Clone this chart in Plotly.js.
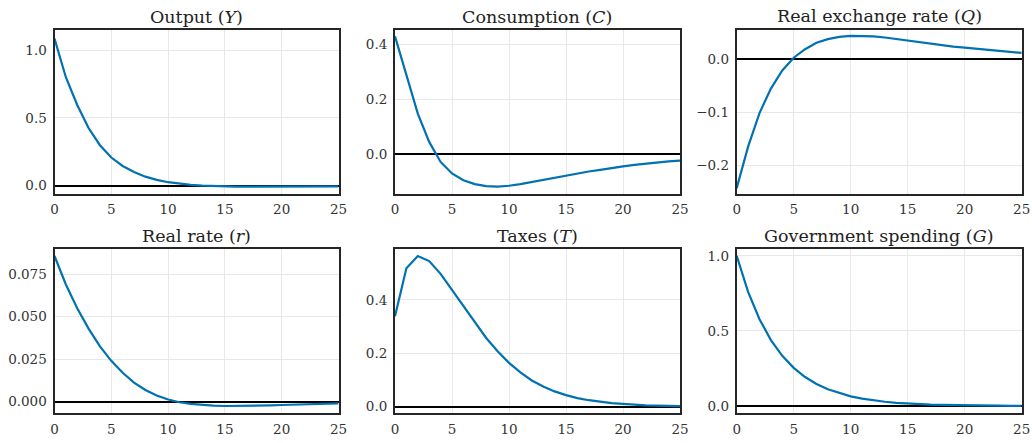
<!DOCTYPE html>
<html>
<head>
<meta charset="utf-8">
<script src="https://cdn.plot.ly/plotly-3.0.1.min.js"></script>
<style>
html,body{margin:0;padding:0;background:#fff;}
#chart{width:1032px;height:443px;}
</style>
</head>
<body>
<div id="chart"></div>
<script>
const periods = [0,1,2,3,4,5,6,7,8,9,10,11,12,13,14,15,16,17,18,19,20,21,22,23,24,25];

const outputY = [1.085,0.80,0.595,0.425,0.298,0.207,0.145,0.100,0.066,0.042,0.025,0.013,0.005,0.000,-0.004,-0.006,-0.007,-0.008,-0.008,-0.008,-0.008,-0.007,-0.007,-0.006,-0.006,-0.005];
const consumptionC = [0.43,0.285,0.148,0.045,-0.028,-0.070,-0.095,-0.109,-0.1165,-0.118,-0.115,-0.109,-0.101,-0.093,-0.085,-0.077,-0.070,-0.063,-0.057,-0.050,-0.044,-0.039,-0.034,-0.030,-0.026,-0.023];
const exchangeQ = [-0.243,-0.165,-0.102,-0.056,-0.022,0.002,0.018,0.030,0.037,0.041,0.043,0.043,0.042,0.040,0.037,0.034,0.031,0.029,0.026,0.023,0.021,0.019,0.017,0.015,0.013,0.011];
const realRate = [0.0858,0.069,0.055,0.043,0.0325,0.024,0.017,0.0112,0.0068,0.0036,0.0012,-0.0004,-0.0014,-0.002,-0.0024,-0.0026,-0.0026,-0.0025,-0.0024,-0.0022,-0.002,-0.0018,-0.0016,-0.0014,-0.0012,-0.001];
const taxesT = [0.338,0.518,0.564,0.545,0.497,0.437,0.374,0.313,0.257,0.207,0.164,0.128,0.098,0.075,0.057,0.043,0.032,0.024,0.018,0.013,0.010,0.007,0.005,0.004,0.003,0.002];
const govG = [1.0,0.76,0.578,0.439,0.334,0.254,0.193,0.146,0.111,0.085,0.064,0.049,0.037,0.028,0.021,0.016,0.012,0.009,0.007,0.005,0.004,0.003,0.002,0.002,0.001,0.001];

const titles = ['Output (<i>Y</i>)','Consumption (<i>C</i>)','Real exchange rate (<i>Q</i>)','Real rate (<i>r</i>)','Taxes (<i>T</i>)','Government spending (<i>G</i>)'];
const series = [outputY, consumptionC, exchangeQ, realRate, taxesT, govG];

const W = 1032, H = 443;
const colPx = [[54.5,338.5],[395,680],[736.7,1021.7]];
const rowPx = [[29.5,194],[249.3,413.3]];
const yRanges = [[-0.062,1.152],[-0.145,0.455],[-0.254,0.055],[-0.0069,0.0897],[-0.025,0.589],[-0.049,1.044]];
const yTicks = [[0,0.5,1.0],[0,0.2,0.4],[-0.2,-0.1,0],[0,0.025,0.05,0.075],[0,0.2,0.4],[0,0.5,1.0]];
const yFormats = ['.1f','.1f','.1f','.3f','.1f','.1f'];

const FONT = 'DejaVu Serif, serif';
const traces = [];
const layout = {
  width: W, height: H,
  margin: {l:0,r:0,t:0,b:0},
  paper_bgcolor: '#fff', plot_bgcolor: '#fff',
  showlegend: false,
  font: {family: FONT, size: 13.5, color: '#333'},
  annotations: []
};

for (let i = 0; i < 6; i++) {
  const r = Math.floor(i/3), c = i%3;
  const ax = i === 0 ? '' : String(i+1);
  traces.push({
    x: periods, y: series[i], type: 'scatter', mode: 'lines',
    line: {color: '#0072B2', width: 2.2},
    xaxis: 'x'+ax, yaxis: 'y'+ax, hoverinfo: 'skip'
  });
  const xd = [colPx[c][0]/W, colPx[c][1]/W];
  const yd = [1 - rowPx[r][1]/H, 1 - rowPx[r][0]/H];
  const common = {
    showline: true, mirror: true, linecolor: '#262626', linewidth: 2,
    showgrid: true, gridcolor: '#e8e8e8', gridwidth: 1,
    ticks: '', tickfont: {family: FONT, size: 13.5, color: '#333'},
    zeroline: false, fixedrange: true
  };
  layout['xaxis'+ax] = Object.assign({}, common, {
    domain: xd, range: [0,25], tickvals: [0,5,10,15,20,25],
    anchor: 'y'+ax, ticklabelstandoff: 2
  });
  layout['yaxis'+ax] = Object.assign({}, common, {
    domain: yd, range: yRanges[i], tickvals: yTicks[i], tickformat: yFormats[i],
    anchor: 'x'+ax, zeroline: true, zerolinecolor: '#000', zerolinewidth: 2,
    ticklabelstandoff: 3
  });
  layout.annotations.push({
    text: titles[i], xref: 'paper', yref: 'paper',
    x: (xd[0]+xd[1])/2, y: yd[1], xanchor: 'center', yanchor: 'bottom',
    yshift: 1, showarrow: false,
    font: {family: FONT, size: 17.5, color: '#222'}
  });
}

Plotly.newPlot('chart', traces, layout, {displayModeBar: false, staticPlot: true});
</script>
</body>
</html>
